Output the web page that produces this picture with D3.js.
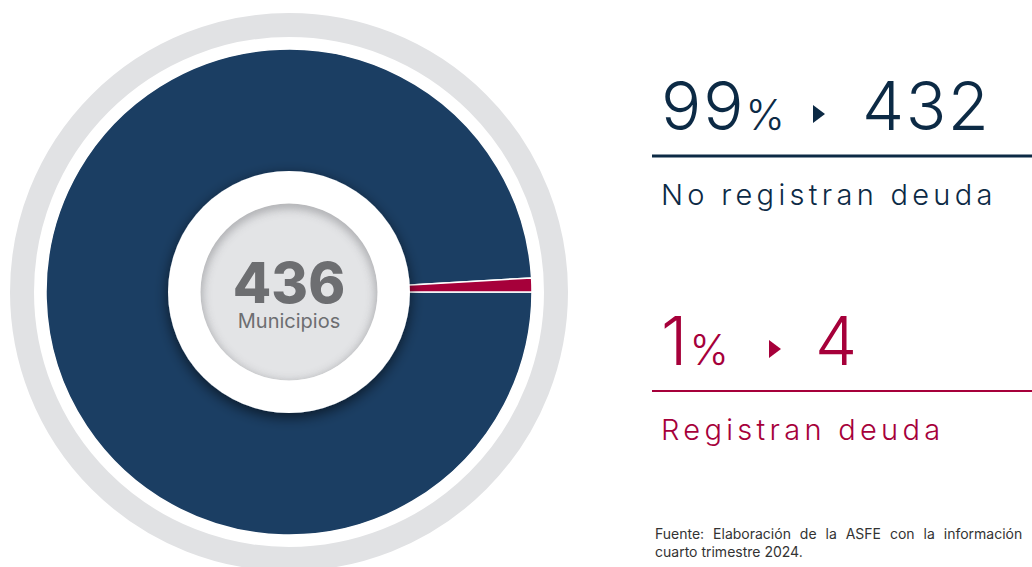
<!DOCTYPE html>
<html>
<head>
<meta charset="utf-8">
<script src="https://cdn.jsdelivr.net/npm/d3@7"></script>
<style>
  body { margin: 0; background: #fff; }
  svg { display: block; }
</style>
</head>
<body>
<div id="chart"></div>
<script>
// data
var categories = ["No registran deuda", "Registran deuda"];
var values = [432, 4];
var percents = ["99", "1"];
var total = 436;
var totalLabel = "Municipios";
var source = ["Fuente: Elaboración de la ASFE con la información",
              "cuarto trimestre 2024."];

var w = 1032, h = 567;
var cx = 289, cy = 292;
var colors = ["#1b3e63", "#a6003a"];
var textColors = ["#0c2a45", "#a6003a"];

var svg = d3.select("#chart").append("svg")
    .attr("width", w)
    .attr("height", h);

var defs = svg.append("defs");

// drop shadow for white circle
var ds = defs.append("filter").attr("id", "drop")
    .attr("x", "-30%").attr("y", "-30%").attr("width", "160%").attr("height", "160%");
ds.append("feDropShadow")
    .attr("dx", 0).attr("dy", 4)
    .attr("stdDeviation", 7)
    .attr("flood-color", "#000")
    .attr("flood-opacity", 0.6);

// blur for inner shadow
defs.append("filter").attr("id", "blur")
    .append("feGaussianBlur").attr("stdDeviation", 5);

defs.append("clipPath").attr("id", "innerClip")
    .append("circle").attr("r", 88.5);

var g = svg.append("g").attr("transform", "translate(" + cx + "," + cy + ")");

// outer gray ring
g.append("circle")
    .attr("r", 267)
    .attr("fill", "none")
    .attr("stroke", "#e1e2e4")
    .attr("stroke-width", 24);

// pie
var pie = d3.pie().sort(null)
    .startAngle(Math.PI / 2)
    .endAngle(Math.PI / 2 + 2 * Math.PI);
var arc = d3.arc().innerRadius(0).outerRadius(243);

g.selectAll("path.slice")
    .data(pie(values))
    .enter().append("path")
    .attr("class", "slice")
    .attr("d", arc)
    .attr("fill", function(d, i) { return colors[i]; })
    .attr("stroke", "#fff")
    .attr("stroke-width", 1.5);

// white circle with shadow
g.append("circle")
    .attr("r", 121)
    .attr("fill", "#fff")
    .attr("filter", "url(#drop)");

// inner gray circle with inner shadow
var inner = g.append("g").attr("clip-path", "url(#innerClip)");
inner.append("circle").attr("r", 88.5).attr("fill", "#e3e4e6");
inner.append("circle")
    .attr("r", 92)
    .attr("cy", 3)
    .attr("fill", "none")
    .attr("stroke", "#8e8f93")
    .attr("stroke-width", 10)
    .attr("filter", "url(#blur)")
    .attr("opacity", 0.7);

g.append("text")
    .attr("x", 0).attr("y", 11)
    .attr("text-anchor", "middle")
    .style("font-family", "Inter, 'Noto Sans', sans-serif")
    .style("font-weight", 800)
    .style("font-size", "56px")
    .style("fill", "#6d6e71")
    .text(total);

g.append("text")
    .attr("x", 0).attr("y", 36)
    .attr("text-anchor", "middle")
    .style("font-family", "Inter, 'Noto Sans', sans-serif")
    .style("font-weight", 400)
    .style("font-size", "20px")
    .style("fill", "#6d6e71")
    .text(totalLabel);

// right side legend blocks
var blockY = [130, 365];      // baseline of the big numbers
var lineY = [156, 391];
var lineW = [3, 2];
var arrowX = [813, 769];
var numX = [862, 815];

var blocks = svg.selectAll("g.block")
    .data(categories)
    .enter().append("g")
    .attr("class", "block");

blocks.each(function(d, i) {
    var b = d3.select(this);
    var col = textColors[i];
    var t = b.append("text")
        .attr("x", 661).attr("y", blockY[i])
        .style("font-family", "Inter, 'Noto Sans', sans-serif")
        .style("font-weight", 300)
        .style("fill", col);
    t.append("tspan").style("font-size", "67px").style("letter-spacing", "2px").text(percents[i]);
    t.append("tspan").style("font-size", "42px").text("%");

    b.append("path")
        .attr("d", "M0,-9L12,0L0,9Z")
        .attr("transform", "translate(" + arrowX[i] + "," + (blockY[i] - 16) + ")")
        .attr("fill", col);

    b.append("text")
        .attr("x", numX[i]).attr("y", blockY[i])
        .style("font-family", "Inter, 'Noto Sans', sans-serif")
        .style("font-weight", 300)
        .style("font-size", "67px")
        .style("letter-spacing", "1.5px")
        .style("fill", col)
        .text(values[i]);

    b.append("line")
        .attr("x1", 652).attr("x2", w)
        .attr("y1", lineY[i]).attr("y2", lineY[i])
        .attr("stroke", col)
        .attr("stroke-width", lineW[i]);

    b.append("text")
        .attr("x", 661).attr("y", lineY[i] + 49)
        .style("font-family", "Inter, 'Noto Sans', sans-serif")
        .style("font-weight", 300)
        .style("font-size", "29px")
        .style("letter-spacing", "4.3px")
        .style("fill", col)
        .text(d);
});

// source note
svg.selectAll("text.source")
    .data(source)
    .enter().append("text")
    .attr("class", "source")
    .attr("x", 655)
    .attr("y", function(d, i) { return 539 + i * 18; })
    .style("font-family", "Inter, 'Noto Sans', sans-serif")
    .style("font-size", "14px")
    .style("word-spacing", function(d, i) { return i == 0 ? "5px" : "0px"; })
    .style("fill", "#333")
    .text(function(d) { return d; });
</script>
</body>
</html>
